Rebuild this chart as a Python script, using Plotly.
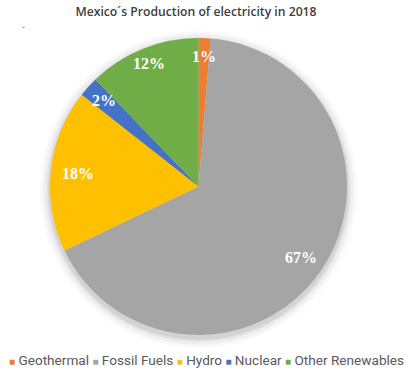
import math
import plotly.graph_objects as go

categories = ["Geothermal", "Fossil Fuels", "Hydro", "Nuclear", "Other Renewables"]
shares = [1.3, 66.6, 17.7, 2.2, 12.2]
colors = ["#ED7D31", "#A5A5A5", "#FFC000", "#4472C4", "#70AD47"]
title_text = "Mexico´s Production of electricity in 2018"

W, H = 412, 370
CX, CY, R = 198.5, 186.5, 148.5  # pie centre / radius in pixels
LABEL_FRACS = [0.875, 0.84, 0.815, 0.86, 0.89]

cx0, cx1 = (CX - R) / W, (CX + R) / W
cy0, cy1 = 1 - (CY + R) / H, 1 - (CY - R) / H

fig = go.Figure()

# soft shadow behind the pie
for i, (grow, alpha) in enumerate([(10, 0.025), (7, 0.035), (4, 0.05), (2, 0.07)]):
    gx = grow / W
    gy = grow / H
    fig.add_trace(go.Pie(
        values=[1], labels=["shadow%d" % i], sort=False,
        marker=dict(colors=["rgba(0,0,0,%s)" % alpha], line=dict(width=0)),
        textinfo="none", hoverinfo="skip", showlegend=False,
        domain=dict(x=[cx0 - gx, cx1 + gx], y=[cy0 - gy - 3 / H, cy1 + gy - 3 / H]),
    ))

fig.add_trace(go.Pie(
    labels=categories, values=shares, sort=False, direction="clockwise", rotation=0,
    marker=dict(colors=colors, line=dict(width=0)),
    textinfo="none", showlegend=False, domain=dict(x=[cx0, cx1], y=[cy0, cy1]),
))

# data labels at the middle angle of each slice
annotations = []
total = sum(shares)
cum = 0.0
for v, frac in zip(shares, LABEL_FRACS):
    mid = (cum + v / 2) / total * 2 * math.pi
    cum += v
    px = CX + frac * R * math.sin(mid)
    py = CY - frac * R * math.cos(mid)
    annotations.append(dict(
        text="%.0f%%" % (v / total * 100), x=px / W, y=1 - py / H, xref="paper", yref="paper",
        xanchor="center", yanchor="middle", showarrow=False,
        font=dict(family="Liberation Serif", size=16, color="white", weight="bold"),
    ))

legend_parts = []
for c, col in zip(categories, colors):
    legend_parts.append("<span style='color:%s;font-size:10px'>■</span> %s" % (col, c))
legend_text = " ".join(legend_parts)

annotations.append(dict(text=legend_text, x=206 / W, xanchor="center", y=1 - 360 / H, yanchor="middle",
                        xref="paper", yref="paper", showarrow=False,
                        font=dict(family="Roboto", size=13.6, color="#595959")))
annotations.append(dict(text="-", x=20 / W, y=1 - 18 / H, xref="paper", yref="paper", showarrow=False,
                        font=dict(size=9, color="#606060")))

fig.update_layout(
    width=W, height=H,
    margin=dict(l=0, r=0, t=0, b=0),
    paper_bgcolor="white", plot_bgcolor="white",
    title=dict(text=title_text, x=196 / W, xanchor="center", y=1 - 12 / H, yanchor="middle",
               font=dict(family="Open Sans", size=12.2, color="#404040", weight=600)),
    annotations=annotations,
)

fig.write_html("out.html", config={"displayModeBar": False},
               post_script="document.body.style.margin='0';")
